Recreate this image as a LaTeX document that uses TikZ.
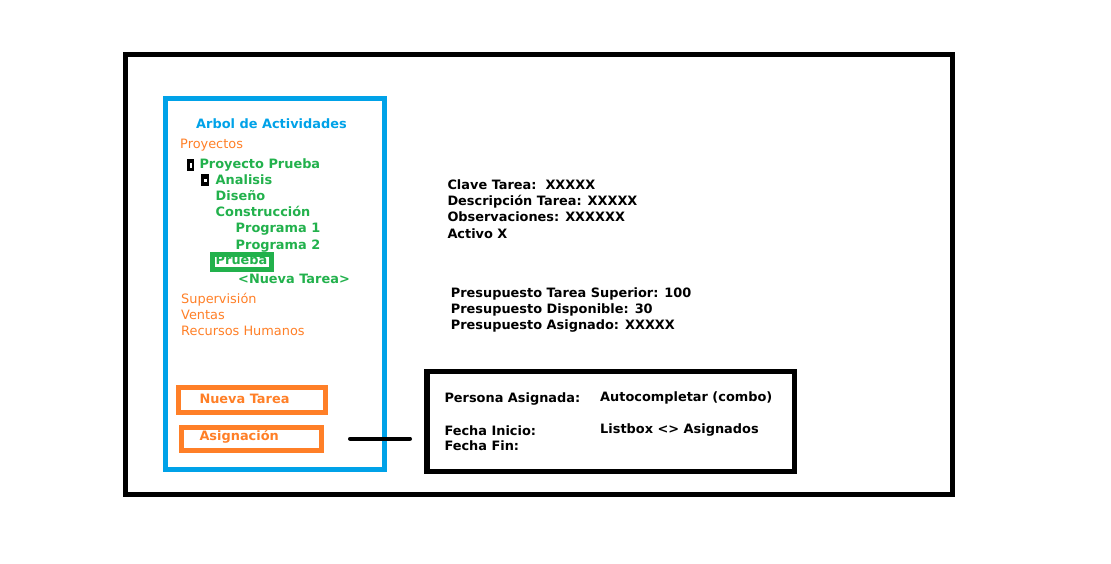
\documentclass[tikz,border=0pt]{standalone}
\usepackage{fontspec}
\setmainfont{DejaVu Sans}
\usepackage{tikz}
\usetikzlibrary{positioning,calc}
\definecolor{treeblue}{HTML}{00A2E8}
\definecolor{treegreen}{HTML}{22B14C}
\definecolor{treeorange}{HTML}{FF7F27}
\tikzset{
  txt/.style={anchor=base west, inner sep=0pt, font=\bfseries\fontsize{12.9}{15}\selectfont},
  plain/.style={anchor=base west, inner sep=0pt, font=\fontsize{12.9}{15}\selectfont, text=treeorange},
  frame/.style={draw, line width=5pt, inner sep=0pt, minimum width=#1},
  icon/.style={fill=black, inner sep=0pt, anchor=north west}
}

\begin{document}
\begin{tikzpicture}[x=1pt, y=-1pt]
  \useasboundingbox (0,0) rectangle (1111,564);

  % frames
  \node[frame=827pt, minimum height=440pt] (screen) at (539,274.5) {};
  \node[frame=219pt, minimum height=371pt, draw=treeblue] (panel) at (275,284) {};
  \node[frame=367.5pt, minimum height=100pt, line width=5.5pt] (assign) at (610.75,421.5) {};
  \node[frame=147pt, minimum height=25pt, draw=treeorange] (btnnueva) at (252,400) {};
  \node[frame=140pt, minimum height=23pt, draw=treeorange, line width=4.5pt] (btnasig) at (251.5,439) {};
  \node[frame=59pt, minimum height=15pt, draw=treegreen] (sel) at (242,261.5) {};

  % tree
  \node[txt, text=treeblue] (arbol) at (196,128.3) {Arbol de Actividades};
  \node[plain] (proyectos) at (180,148.3) {Proyectos};
  \node[icon, minimum width=7pt, minimum height=12pt] (box1) at (187,159) {};
  \fill[white] ($(box1.center)+(-1,-2.5)$) rectangle ++(2,5);
  \node[icon, minimum width=8pt, minimum height=12pt] (box2) at (201,174) {};
  \fill[white] ($(box2.center)+(-1.5,-1.5)$) rectangle ++(3,3);
  \node[txt, text=treegreen] (pprueba) at (199.3,169) {Proyecto Prueba};
  \node[txt, text=treegreen] (analisis) at (215.5,185) {Analisis};
  \node[txt, text=treegreen] (diseno) at (215.5,201) {Diseño};
  \node[txt, text=treegreen] (constr) at (215.5,217) {Construcción};
  \foreach \n/\y in {1/233,2/249}
    \node[txt, text=treegreen] (prog\n) at (235.5,\y) {Programa \n};
  \node[txt, text=treegreen] (prueba) at (215.5,264.3) {Prueba};
  \node[txt, text=treegreen] (nueva) at (238,283.3) {<Nueva Tarea>};
  \node[plain] (superv) at (181,303.3) {Supervisión};
  \node[plain] (ventas) at (181,319.3) {Ventas};
  \node[plain] (rrhh) at (181,335.3) {Recursos Humanos};
  \node[txt, text=treeorange] (lblnueva) at (199.3,403.3) {Nueva Tarea};
  \node[txt, text=treeorange] (lblasig) at (199.3,440) {Asignación};

  % task data
  \node[txt] (clave) at (447.3,190) {Clave Tarea:\ \ XXXXX};
  \node[txt] (descr) at (447.3,206) {Descripción Tarea: XXXXX};
  \node[txt] (obs) at (447.3,222) {Observaciones: XXXXXX};
  \node[txt] (activo) at (447.3,238) {Activo X};
  \node[txt] (ptsup) at (450.7,297.3) {Presupuesto Tarea Superior: 100};
  \node[txt] (pdisp) at (450.7,313.3) {Presupuesto Disponible: 30};
  \node[txt] (pasig) at (450.7,329.3) {Presupuesto Asignado: XXXXX};

  % assignment
  \node[txt] (persona) at (444.3,402.7) {Persona Asignada:};
  \node[txt] (auto) at (600,401) {Autocompletar (combo)};
  \node[txt] (finicio) at (444.3,435) {Fecha Inicio:};
  \node[txt] (listbox) at (600,433.3) {Listbox <> Asignados};
  \node[txt] (ffin) at (444.3,450) {Fecha Fin:};

  \coordinate (linka) at (350,438.7);
  \coordinate (linkb) at (410,438.7);
  \draw[line width=4pt, line cap=round] (linka) -- (linkb);
\end{tikzpicture}
\end{document}
